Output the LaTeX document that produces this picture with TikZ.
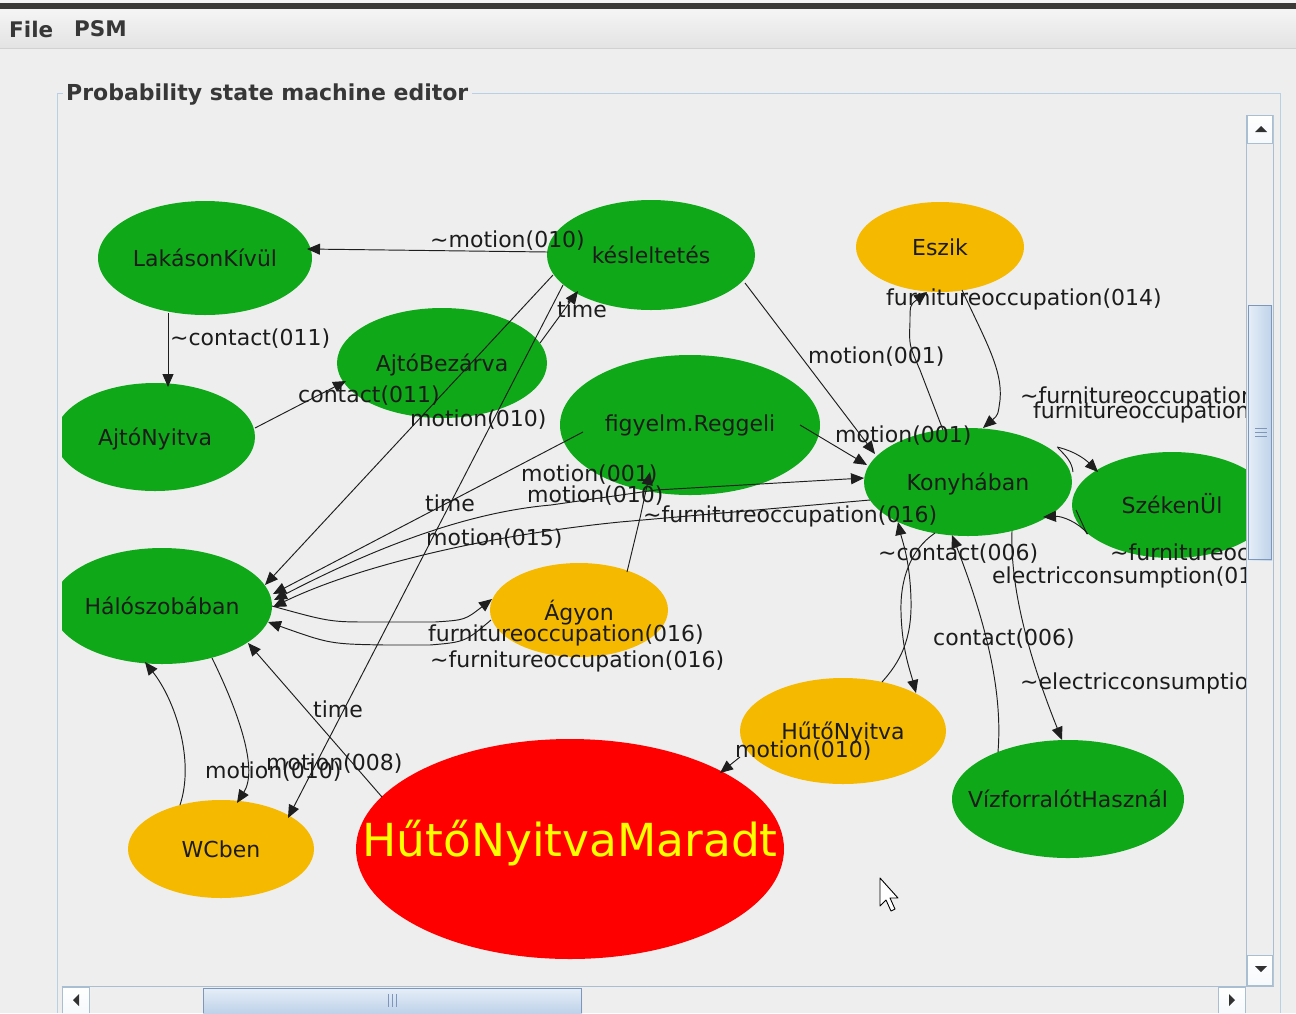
\documentclass[tikz,border=0pt]{standalone}
\usepackage{fontspec}
\setmainfont{DejaVu Sans}
\usetikzlibrary{shapes.geometric,arrows.meta,calc}
\definecolor{bg}{RGB}{238,238,238}
\definecolor{ngreen}{RGB}{14,168,24}
\definecolor{norange}{RGB}{245,185,0}
\definecolor{nred}{RGB}{255,0,0}
\definecolor{nyellow}{RGB}{255,255,0}
\definecolor{bblue}{RGB}{184,207,229}
\definecolor{edgec}{RGB}{30,30,30}
\definecolor{txtc}{RGB}{28,28,28}
\definecolor{menutxt}{RGB}{55,55,55}
\definecolor{topbar}{RGB}{60,59,55}
\definecolor{thumbA}{RGB}{230,238,248}
\definecolor{thumbB}{RGB}{190,210,233}
\definecolor{thumbline}{RGB}{125,150,185}
\definecolor{sbline}{RGB}{170,190,210}
\definecolor{arrowc}{RGB}{50,50,50}
\newcommand{\lblfont}{\fontsize{22}{26}\selectfont}
\newcommand{\menufont}{\fontsize{21.5}{25}\selectfont\bfseries}
\newcommand{\bigfont}{\fontsize{45.5}{50}\selectfont}
\begin{document}
\begin{tikzpicture}[x=1pt,y=-1pt,
  st/.style={ellipse, inner sep=0pt, draw=none},
  gst/.style={st, fill=ngreen},
  ost/.style={st, fill=norange},
  rst/.style={st, fill=nred},
  nt/.style={inner sep=0pt, text=txtc, font=\lblfont, text height=16pt, text depth=0pt},
  ed/.style={draw=edgec, line width=0.95pt, -{Triangle[length=13pt,width=11pt]}},
  edd/.style={draw=edgec, line width=0.95pt, {Triangle[length=13pt,width=11pt]}-{Triangle[length=13pt,width=11pt]}},
  edn/.style={draw=edgec, line width=0.95pt},
  lb/.style={inner sep=0pt, anchor=west, font=\lblfont, text=txtc, text height=16pt, text depth=5pt},
  mn/.style={inner sep=0pt, anchor=west, font=\menufont, text=menutxt},
]
\useasboundingbox (0,0) rectangle (1296,1013);
\fill[bg] (0,0) rectangle (1296,1013);
% window top
\fill[white!96!black] (0,0) rectangle (1296,3);
\fill[topbar] (0,3) rectangle (1296,9);
\shade[top color=white!96!black, bottom color=white!89!black] (0,9) rectangle (1296,48);
\draw[white!82!black] (0,48.5) -- (1296,48.5);
\node[mn] (mfile) at (9,29) {File};
\node[mn] (mpsm) at (74,29) {PSM};
% titled border
\draw[bblue, line width=1pt] (63,93.5) -- (57.5,93.5) -- (57.5,1013);
\draw[bblue, line width=1pt] (472,93.5) -- (1280.5,93.5) -- (1280.5,1013);
\node[mn, font=\fontsize{22}{26}\selectfont\bfseries] (title) at (66,95) {Probability state machine editor};

\begin{scope}
\clip (62,115) rectangle (1246,986);
% states
\node[gst, minimum width=214pt, minimum height=114pt] (lak) at (205,258) {};
\node[nt] (lak-t) at (lak) {LakásonKívül};
\node[gst, minimum width=208pt, minimum height=110pt] (kes) at (651,255) {};
\node[nt] (kes-t) at (kes) {késleltetés};
\node[ost, minimum width=168pt, minimum height=90pt] (esz) at (940,247) {};
\node[nt] (esz-t) at (esz) {Eszik};
\node[gst, minimum width=210pt, minimum height=110pt] (ajb) at (442,363) {};
\node[nt] (ajb-t) at (ajb) {AjtóBezárva};
\node[gst, minimum width=200pt, minimum height=108pt] (ajn) at (155,437) {};
\node[nt] (ajn-t) at (ajn) {AjtóNyitva};
\node[gst, minimum width=260pt, minimum height=140pt] (fig) at (690,425) {};
\node[nt] (fig-t) at ($(fig)+(0,-2)$) {figyelm.Reggeli};
\node[gst, minimum width=208pt, minimum height=108pt] (kon) at (968,482) {};
\node[nt] (kon-t) at (kon) {Konyhában};
\node[gst, minimum width=200pt, minimum height=106pt] (szk) at (1172,505) {};
\node[nt] (szk-t) at (szk) {SzékenÜl};
\node[gst, minimum width=220pt, minimum height=116pt] (hal) at (162,606) {};
\node[nt] (hal-t) at (hal) {Hálószobában};
\node[ost, minimum width=178pt, minimum height=94pt] (agy) at (579,610) {};
\node[nt] (agy-t) at ($(agy)+(0,2)$) {Ágyon};
\node[ost, minimum width=206pt, minimum height=106pt] (hn) at (843,731) {};
\node[nt] (hn-t) at (hn) {HűtőNyitva};
\node[gst, minimum width=232pt, minimum height=118pt] (viz) at (1068,799) {};
\node[nt] (viz-t) at (viz) {VízforralótHasznál};
\node[ost, minimum width=186pt, minimum height=98pt] (wc) at (221,849) {};
\node[nt] (wc-t) at (wc) {WCben};
\node[rst, minimum width=428pt, minimum height=220pt] (hnm) at (570,849) {};
\node[inner sep=0pt, text=nyellow, font=\bigfont, text height=33pt, text depth=0pt] (hnm-t) at ($(hnm)+(0,-9)$) {HűtőNyitvaMaradt};

% transitions
\draw[ed] ($(kes)+(-103,-3)$) -- ($(lak)+(102,-9)$);
\draw[ed] ($(lak)+(-37,55)$) -- ($(ajn)+(13,-50)$);
\draw[ed] ($(ajn)+(100,-9)$) -- ($(ajb)+(-96,18)$);
\draw[ed] ($(ajb)+(98,-20)$) -- ($(kes)+(-73,36)$);
\draw[ed] ($(kes)+(-98,20)$) -- ($(hal)+(103,-21)$);
\draw[ed] ($(kes)+(-88,30)$) -- ($(wc)+(67,-31)$);
\draw[ed] ($(kes)+(94,28)$) -- ($(kon)+(-93,-28)$);
\draw[ed] ($(fig)+(110,0)$) -- ($(kon)+(-101,-17)$);
\draw[ed] ($(fig)+(-107,7)$) -- ($(hal)+(111,-12)$);
\draw[edd] ($(hal)+(112,-6)$) .. controls (380,545) and (470,512) .. (551,505) -- (656,490) -- ($(kon)+(-104,-4)$);
\draw[ed] ($(kon)+(-98,18)$) -- (620,522) .. controls (490,535) and (360,565) .. ($(hal)+(111,1)$);
\draw[ed] ($(agy)+(48,-38)$) -- (640,518) -- ($(fig)+(-40,47)$);
\draw[ed] ($(hal)+(110,0)$) .. controls (330,622) .. (372,622) -- (435,622) .. controls (465,620) .. ($(agy)+(-87,-11)$);
\draw[ed] ($(agy)+(-88,10)$) .. controls (465,642) .. (430,645) -- (385,645) .. controls (330,644) .. ($(hal)+(106,16)$);
\draw[ed] ($(hnm)+(-188,-52)$) -- ($(hal)+(86,37)$);
\draw[ed] ($(hal)+(50,52)$) .. controls (240,715) and (258,770) .. ($(wc)+(16,-46)$);
\draw[ed] ($(wc)+(-41,-44)$) .. controls (195,760) and (175,700) .. ($(hal)+(-17,56)$);
\draw[ed] ($(hn)+(-103,26)$) -- ($(hnm)+(150,-76)$);
\draw[ed] ($(kon)+(-25,-52)$) -- (920,370) .. controls (909,345) .. (910,322) .. controls (910,305) .. ($(esz)+(-13,45)$);
\draw[ed] ($(esz)+(22,43)$) .. controls (985,340) and (1003,370) .. (1000,400) .. controls (998,415) .. ($(kon)+(15,-54)$);
\draw[ed] ($(kon)+(89,-35)$) .. controls (1078,452) and (1088,462) .. ($(szk)+(-74,-33)$);
\draw[edn] ($(kon)+(90,-34)$) .. controls (1066,456) and (1072,462) .. ($(szk)+(-99,-33)$);
\draw[ed] ($(szk)+(-84,29)$) .. controls (1078,522) and (1062,516) .. ($(kon)+(75,35)$);
\draw[edn] ($(szk)+(-85,29)$) .. controls (1082,522) .. ($(szk)+(-96,5)$);
\draw[ed] ($(kon)+(-33,51)$) .. controls (910,550) and (900,580) .. (901,612) .. controls (902,650) and (910,670) .. ($(hn)+(73,-38)$);
\draw[ed] ($(hn)+(39,-49)$) .. controls (900,662) and (912,640) .. (911,600) .. controls (910,560) and (902,540) .. ($(kon)+(-70,40)$);
\draw[ed] ($(viz)+(-70,-47)$) .. controls (1003,690) and (985,620) .. ($(kon)+(-16,53)$);
\draw[ed] ($(kon)+(44,49)$) .. controls (1010,590) and (1030,660) .. ($(viz)+(-6,-59)$);

% labels
\node[lb] (l1) at (430,242) {\char`~motion(010)};
\node[lb] (l2) at (170,340) {\char`~contact(011)};
\node[lb] (l3) at (298,397) {contact(011)};
\node[lb] (l4) at (557,312) {time};
\node[lb] (l5) at (410,421) {motion(010)};
\node[lb] (l6) at (808,358) {motion(001)};
\node[lb] (l7) at (886,300) {furnitureoccupation(014)};
\node[lb] (l8) at (1020,398) {\char`~furnitureoccupation};
\node[lb] (l9) at (1033,413) {furnitureoccupation};
\node[lb] (l10) at (835,437) {motion(001)};
\node[lb] (l11) at (521,476) {motion(001)};
\node[lb] (l12) at (527,497) {motion(010)};
\node[lb] (l13) at (425,506) {time};
\node[lb] (l14) at (643,517) {\char`~furnitureoccupation(016)};
\node[lb] (l15) at (426,540) {motion(015)};
\node[lb] (l16) at (878,555) {\char`~contact(006)};
\node[lb] (l17) at (1110,555) {\char`~furnitureoc};
\node[lb] (l18) at (992,578) {electricconsumption(01};
\node[lb] (l19) at (428,636) {furnitureoccupation(016)};
\node[lb] (l20) at (430,662) {\char`~furnitureoccupation(016)};
\node[lb] (l21) at (933,640) {contact(006)};
\node[lb] (l22) at (1020,684) {\char`~electricconsumptio};
\node[lb] (l23) at (735,752) {motion(010)};
\node[lb] (l24) at (313,712) {time};
\node[lb] (l25) at (205,773) {motion(010)};
\node[lb] (l26) at (266,765) {motion(008)};

% mouse pointer
\filldraw[fill=white, draw=black, line width=0.9pt, line join=round] (880,878) -- (880,906) -- (886,900) -- (891,911) -- (895,909) -- (890,898) -- (898,898) -- cycle;
\end{scope}

% vertical scrollbar
\draw[sbline] (1246.5,115.5) rectangle (1273.5,986.5);
\shade[top color=white, bottom color=white!88!bblue] (1247,115) rectangle (1273,143);
\draw[sbline] (1247.5,115.5) rectangle (1272.5,143.5);
\fill[arrowc] (1255,132) -- (1267,132) -- (1261,126) -- cycle;
\shade[left color=thumbA, right color=thumbB] (1248,305) rectangle (1272,560);
\draw[thumbline] (1248.5,305.5) rectangle (1271.5,559.5);
\draw[thumbline] (1255,428.5) -- (1267,428.5) (1255,432.5) -- (1267,432.5) (1255,436.5) -- (1267,436.5);
\shade[top color=white, bottom color=white!88!bblue] (1247,955) rectangle (1273,985);
\draw[sbline] (1247.5,955.5) rectangle (1272.5,985.5);
\fill[arrowc] (1255,966) -- (1267,966) -- (1261,972) -- cycle;
% horizontal scrollbar
\draw[sbline] (61.5,986.5) -- (1246.5,986.5);
\shade[top color=white, bottom color=white!88!bblue] (62,987) rectangle (90,1013);
\draw[sbline] (62.5,1013) -- (62.5,987.5) -- (89.5,987.5) -- (89.5,1013);
\fill[arrowc] (79,994) -- (79,1006) -- (73,1000) -- cycle;
\shade[top color=thumbA, bottom color=thumbB] (203,988) rectangle (582,1013);
\draw[thumbline] (203.5,1013) -- (203.5,988.5) -- (581.5,988.5) -- (581.5,1013);
\draw[thumbline] (388.5,994) -- (388.5,1007) (392.5,994) -- (392.5,1007) (396.5,994) -- (396.5,1007);
\shade[top color=white, bottom color=white!88!bblue] (1218,987) rectangle (1246,1013);
\draw[sbline] (1218.5,1013) -- (1218.5,987.5) -- (1245.5,987.5) -- (1245.5,1013);
\fill[arrowc] (1229,994) -- (1229,1006) -- (1235,1000) -- cycle;
\end{tikzpicture}
\end{document}
